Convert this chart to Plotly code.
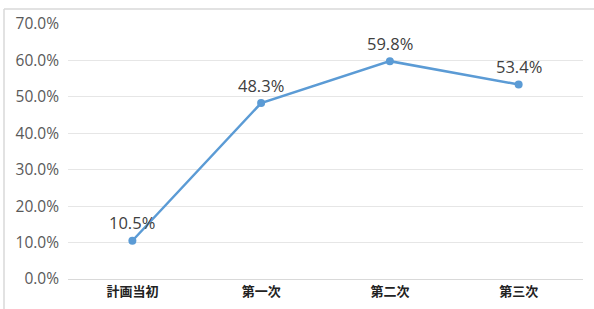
import plotly.graph_objects as go

categories = ["計画当初", "第一次", "第二次", "第三次"]
values = [10.5, 48.3, 59.8, 53.4]
labels = ["10.5%", "48.3%", "59.8%", "53.4%"]
y_ticks = [0, 10, 20, 30, 40, 50, 60, 70]
y_tick_labels = ["0.0%", "10.0%", "20.0%", "30.0%", "40.0%", "50.0%", "60.0%", "70.0%"]

W, H = 594, 309
L, R, T, B = 68, 11, 24, 30
pw, ph = W - L - R, H - T - B

def px_x(x):
    return (x - L) / pw

def px_y(y):
    return (H - B - y) / ph

fig = go.Figure()
fig.add_trace(go.Scatter(
    x=categories, y=values, mode="lines+markers",
    line=dict(color="#5b9bd5", width=2.5),
    marker=dict(color="#5b9bd5", size=8),
    cliponaxis=False,
    hoverinfo="skip",
))

for c, v, t in zip(categories, values, labels):
    fig.add_annotation(
        x=c, y=v, text=t, showarrow=False, yshift=18,
        font=dict(family="Open Sans, Noto Sans, sans-serif", size=16.5, color="#404040"),
    )

fig.update_layout(
    width=W, height=H,
    margin=dict(l=L, r=R, t=T, b=B, autoexpand=False),
    paper_bgcolor="white", plot_bgcolor="white",
    showlegend=False,
    xaxis=dict(
        showgrid=False, zeroline=False, showline=False, ticks="",
        automargin=False,
        tickfont=dict(family="Noto Sans CJK JP", size=13, color="#222222", weight="bold"),
        range=[-0.5, 3.5],
        ticklabelstandoff=3,
    ),
    yaxis=dict(
        range=[0, 70], tickvals=y_ticks, ticktext=y_tick_labels,
        showgrid=True, gridcolor="#e6e6e6", gridwidth=1,
        zeroline=True, zerolinecolor="#d9d9d9", zerolinewidth=1,
        showline=False, ticks="",
        automargin=False,
        tickfont=dict(family="Open Sans, Noto Sans, sans-serif", size=15.5, color="#595959"),
        ticklabelstandoff=8,
    ),
    shapes=[
        dict(type="line", xref="paper", yref="paper",
             x0=px_x(4), x1=px_x(W), y0=px_y(9), y1=px_y(9),
             line=dict(color="#d9d9d9", width=1.5)),
        dict(type="line", xref="paper", yref="paper",
             x0=px_x(4), x1=px_x(4), y0=px_y(9), y1=px_y(H),
             line=dict(color="#d9d9d9", width=1.5)),
    ],
)

fig.write_html("out.html", config={"displayModeBar": False},
               post_script="document.body.style.margin='0';")
